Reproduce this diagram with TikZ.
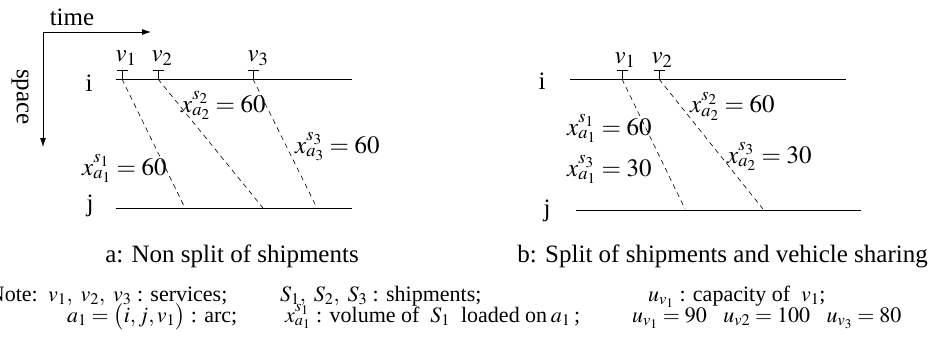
\documentclass[tikz,border=0pt]{standalone}
\usepackage{mathptmx}
\usepackage[no-math]{fontspec}
\setmainfont{Liberation Serif}
\usetikzlibrary{arrows.meta}
\begin{document}
\begin{tikzpicture}[x=1pt,y=-1pt,
  lbl/.style={inner sep=0pt, font=\fontsize{25}{30}\selectfont},
  note/.style={inner sep=0pt, font=\fontsize{22}{26}\selectfont, anchor=base west},
  axis/.style={-{Latex[length=9pt,width=6pt]}, line width=0.8pt},
  track/.style={line width=0.8pt},
  arcline/.style={line width=0.6pt, dash pattern=on 5pt off 4pt},
  tickmark/.style={line width=0.8pt}]
\useasboundingbox (0,0) rectangle (940,361);
% axes
\coordinate (O) at (43,32);
\coordinate (T) at (151,32);
\coordinate (S) at (43,147);
\draw[axis] (O) -- (T);
\draw[axis] (O) -- (S);
\node[lbl] (time) at (72,17) {time};
\node[lbl, rotate=-90] (space) at (20,97) {space};
% panel a
\coordinate (ia1) at (116,79); \coordinate (ia2) at (352,79);
\coordinate (ja1) at (116,208); \coordinate (ja2) at (352,208);
\draw[track] (ia1) -- (ia2);
\draw[track] (ja1) -- (ja2);
\node[lbl, anchor=base] (ia) at (89,92) {i};
\node[lbl, anchor=base] (ja) at (90,211) {j};
\coordinate (va1) at (122,79); \coordinate (va2) at (158,79); \coordinate (va3) at (253,79);
\coordinate (ea1) at (185,208); \coordinate (ea2) at (263,208); \coordinate (ea3) at (317,208);
\foreach \p in {va1,va2,va3}{\draw[tickmark] (\p) -- ++(0,-9) ++(-5.5,0) -- ++(11,0);}
\node[lbl, anchor=base] (lva1) at (126,62) {$v_1$};
\node[lbl, anchor=base] (lva2) at (162,62) {$v_2$};
\node[lbl, anchor=base] (lva3) at (258,62) {$v_3$};
\draw[arcline] (va1) -- (ea1);
\draw[arcline] (va2) -- (ea2);
\draw[arcline] (va3) -- (ea3);
\node[lbl, anchor=base west] (xa2) at (181,112) {$x_{a_2}^{s_2}=60$};
\node[lbl, anchor=base west] (xa3) at (295,153) {$x_{a_3}^{s_3}=60$};
\node[lbl, anchor=base west] (xa1) at (82,175) {$x_{a_1}^{s_1}=60$};
\node[lbl, anchor=base] (capa) at (232,262) {a: Non split of shipments};
% panel b
\coordinate (ib1) at (570,79); \coordinate (ib2) at (846,79);
\coordinate (jb1) at (576,210); \coordinate (jb2) at (861,210);
\draw[track] (ib1) -- (ib2);
\draw[track] (jb1) -- (jb2);
\node[lbl, anchor=base] (ib) at (542,89) {i};
\node[lbl, anchor=base] (jb) at (547,216) {j};
\coordinate (vb1) at (622,79); \coordinate (vb2) at (659,79);
\coordinate (eb1) at (685,209); \coordinate (eb2) at (763,209);
\foreach \p in {vb1,vb2}{\draw[tickmark] (\p) -- ++(0,-9) ++(-5.5,0) -- ++(11,0);}
\node[lbl, anchor=base] (lvb1) at (625,64) {$v_1$};
\node[lbl, anchor=base] (lvb2) at (662,64) {$v_2$};
\draw[arcline] (vb1) -- (eb1);
\draw[arcline] (vb2) -- (eb2);
\node[lbl, anchor=base west] (xb1) at (567,135) {$x_{a_1}^{s_1}=60$};
\node[lbl, anchor=base west] (xb3) at (567,176) {$x_{a_1}^{s_3}=30$};
\node[lbl, anchor=base west] (xb2) at (690,113) {$x_{a_2}^{s_2}=60$};
\node[lbl, anchor=base west] (xb4) at (727,163) {$x_{a_2}^{s_3}=30$};
\node[lbl, anchor=base east] (capb) at (928,262) {b: Split of shipments and vehicle sharing};
% notes
\node[note, anchor=base east] (nt) at (38,301) {Note:};
\node[note] (n1) at (48,301) {$v_1,\ v_2,\ v_3$ : services;};
\node[note] (n2) at (280,301) {$S_1,\ S_2,\ S_3$ : shipments;};
\node[note] (n3) at (648,301) {$u_{v_1}$ : capacity of\ \ $v_1$;};
\node[note] (n4) at (67,322) {$a_1=\bigl(i,j,v_1\bigr)$ : arc;};
\node[note] (n5) at (285,322) {$x_{a_1}^{s_1}$ : volume of\ \ $S_1$\ \ loaded on\,$a_1$\,;};
\node[note] (n6) at (632,322) {$u_{v_1}=90\ \ \ u_{v2}=100\ \ \ u_{v_3}=80$};
\end{tikzpicture}
\end{document}
